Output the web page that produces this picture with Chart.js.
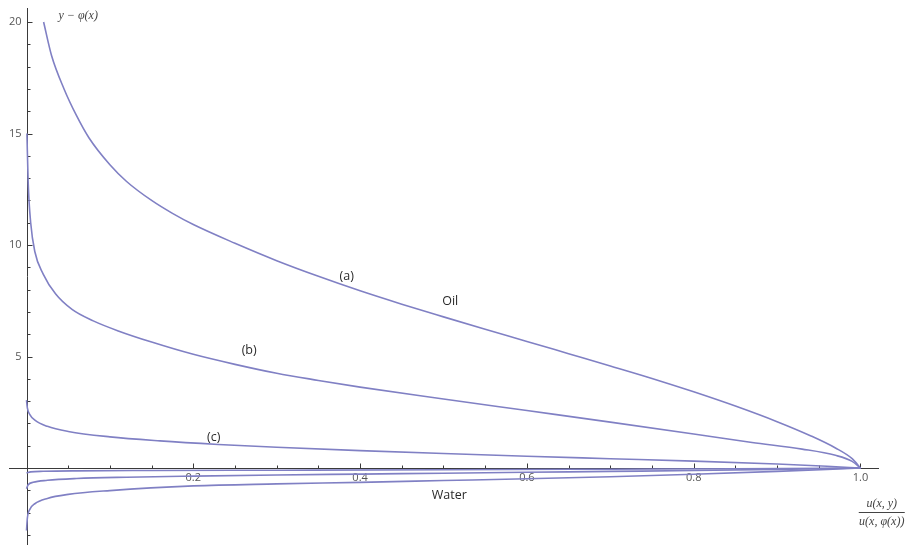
<!DOCTYPE html>
<html>
<head>
<meta charset="utf-8">
<script src="https://cdn.jsdelivr.net/npm/chart.js@4.4.0/dist/chart.umd.min.js"></script>
<style>
  html, body { margin: 0; padding: 0; background: #fff; }
  #chart { display: block; }
</style>
</head>
<body>
<canvas id="chart" width="909" height="548"></canvas>
<script>
// curve (a) - oil side, largest
const curveAX = [0.0205, 0.03, 0.045, 0.06, 0.075, 0.1, 0.12, 0.15, 0.175, 0.2, 0.25, 0.3, 0.35, 0.4, 0.45, 0.5, 0.55, 0.6, 0.65, 0.7, 0.75, 0.8, 0.85, 0.9, 0.94, 0.97, 0.99, 1.0];
const curveAY = [20.0, 18.5, 17.0, 15.8, 14.8, 13.6, 12.85, 12.0, 11.42, 10.92, 10.08, 9.3, 8.6, 7.95, 7.35, 6.78, 6.22, 5.68, 5.13, 4.58, 4.02, 3.42, 2.78, 2.08, 1.45, 0.9, 0.42, 0];

// curve (b)
const curveBX = [0.0005, 0.002, 0.005, 0.01, 0.02, 0.035, 0.055, 0.08, 0.11, 0.15, 0.2, 0.25, 0.3, 0.35, 0.4, 0.5, 0.6, 0.7, 0.8, 0.87, 0.93, 0.97, 0.99, 1.0];
const curveBY = [15.0, 12.8, 11.0, 9.7, 8.7, 7.8, 7.1, 6.6, 6.15, 5.65, 5.1, 4.65, 4.25, 3.93, 3.63, 3.1, 2.58, 2.06, 1.53, 1.15, 0.85, 0.57, 0.3, 0];

// curve (c)
const curveCX = [0.0, 0.001, 0.004, 0.01, 0.025, 0.05, 0.1, 0.16, 0.23, 0.3, 0.4, 0.5, 0.6, 0.7, 0.8, 0.9, 0.96, 1.0];
const curveCY = [3.05, 2.7, 2.4, 2.15, 1.87, 1.64, 1.4, 1.22, 1.06, 0.93, 0.78, 0.65, 0.53, 0.42, 0.31, 0.18, 0.08, 0];

// water side curves (below the axis)
const waterTopX = [0.0, 0.005, 0.02, 0.06, 0.15, 0.3, 0.5, 0.7, 0.85, 1.0];
const waterTopY = [-0.22, -0.17, -0.145, -0.125, -0.11, -0.095, -0.075, -0.05, -0.03, 0];
const waterMidX = [0.0, 0.002, 0.008, 0.025, 0.06, 0.12, 0.2, 0.3, 0.4, 0.5, 0.6, 0.7, 0.8, 0.9, 1.0];
const waterMidY = [-0.93, -0.75, -0.64, -0.55, -0.47, -0.41, -0.36, -0.31, -0.27, -0.23, -0.19, -0.15, -0.11, -0.06, 0];
const waterLowX = [0.0, 0.001, 0.004, 0.01, 0.025, 0.05, 0.1, 0.2, 0.3, 0.4, 0.5, 0.6, 0.7, 0.8, 0.9, 1.0];
const waterLowY = [-2.8, -2.25, -1.85, -1.6, -1.36, -1.18, -1.01, -0.8, -0.71, -0.64, -0.56, -0.48, -0.39, -0.28, -0.15, 0];

// axes
const X_MIN = -0.021, X_MAX = 1.0222;
const Y_MIN = -3.45, Y_MAX = 20.63;
const xTicks = [0.2, 0.4, 0.6, 0.8, 1.0];
const xTickLabels = ["0.2", "0.4", "0.6", "0.8", "1.0"];
const yTicks = [5, 10, 15, 20];
const yTickLabels = ["5", "10", "15", "20"];

// text placed in data coordinates
const noteTexts = ["(a)", "(b)", "(c)", "Oil", "Water"];
const noteX = [0.384, 0.267, 0.2245, 0.508, 0.507];
const noteY = [8.58, 5.26, 1.38, 7.45, -1.21];

const CURVE_COLOR = "#8080c4";
const AXIS_COLOR = "#3a3a3a";

function toPoints(xs, ys) {
  return xs.map((x, i) => ({ x, y: ys[i] }));
}

function curve(xs, ys) {
  return {
    data: toPoints(xs, ys),
    showLine: true,
    borderColor: CURVE_COLOR,
    borderWidth: 1.6,
    pointRadius: 0,
    cubicInterpolationMode: "monotone",
    fill: false,
  };
}

const crossAxes = {
  id: "crossAxes",
  beforeDatasetsDraw(chart) {
    const { ctx, chartArea, scales: { x, y } } = chart;
    const x0 = Math.round(x.getPixelForValue(0)) + 0.5;
    const y0 = Math.round(y.getPixelForValue(0)) + 0.5;
    ctx.save();
    ctx.strokeStyle = AXIS_COLOR;
    ctx.lineWidth = 1;
    ctx.beginPath();
    ctx.moveTo(chartArea.left, y0);
    ctx.lineTo(chartArea.right, y0);
    ctx.moveTo(x0, chartArea.top);
    ctx.lineTo(x0, chartArea.bottom);
    // x ticks every 0.05, pointing up
    for (let i = 1; i <= 20; i++) {
      const px = Math.round(x.getPixelForValue(i * 0.05)) + 0.5;
      ctx.moveTo(px, y0);
      ctx.lineTo(px, y0 - (i % 4 === 0 ? 5 : 3));
    }
    // y ticks every 1, pointing right
    for (let v = -3; v <= 20; v++) {
      if (v === 0) continue;
      const py = Math.round(y.getPixelForValue(v)) + 0.5;
      ctx.moveTo(x0, py);
      ctx.lineTo(x0 + (v % 5 === 0 ? 5 : 3), py);
    }
    ctx.stroke();

    ctx.fillStyle = "#555";
    ctx.font = "11px 'Open Sans'";
    ctx.textAlign = "center";
    ctx.textBaseline = "top";
    xTicks.forEach((v, i) => ctx.fillText(xTickLabels[i], x.getPixelForValue(v), y0 + 4));
    ctx.textAlign = "right";
    ctx.textBaseline = "middle";
    yTicks.forEach((v, i) => ctx.fillText(yTickLabels[i], x0 - 6, y.getPixelForValue(v)));
    ctx.restore();
  },
  afterDatasetsDraw(chart) {
    const { ctx, scales: { x, y } } = chart;
    ctx.save();
    ctx.fillStyle = "#2a2a2a";
    ctx.font = "12.5px 'Open Sans'";
    ctx.textAlign = "center";
    ctx.textBaseline = "middle";
    noteTexts.forEach((t, i) => ctx.fillText(t, x.getPixelForValue(noteX[i]), y.getPixelForValue(noteY[i])));

    // axis titles (serif italic, Mathematica style)
    ctx.fillStyle = "#444";
    ctx.font = "italic 12px 'Liberation Serif'";
    ctx.fillText("y \u2212 \u03c6(x)", x.getPixelForValue(0.062), y.getPixelForValue(20.3));

    const fx = x.getPixelForValue(1.0255);
    const barY = Math.round(y.getPixelForValue(-1.95)) + 0.5;
    ctx.fillText("u(x, y)", fx, barY - 9);
    ctx.fillText("u(x, \u03c6(x))", fx, barY + 9);
    ctx.strokeStyle = "#444";
    ctx.lineWidth = 1;
    ctx.beginPath();
    ctx.moveTo(fx - 23, barY);
    ctx.lineTo(fx + 23, barY);
    ctx.stroke();
    ctx.restore();
  },
};

const chart = new Chart(document.getElementById("chart").getContext("2d"), {
  type: "scatter",
  data: {
    datasets: [
      curve(curveAX, curveAY),
      curve(curveBX, curveBY),
      curve(curveCX, curveCY),
      curve(waterTopX, waterTopY),
      curve(waterMidX, waterMidY),
      curve(waterLowX, waterLowY),
    ],
  },
  options: {
    responsive: false,
    animation: false,
    layout: { padding: { left: 9, right: 30, top: 8, bottom: 3 } },
    plugins: { legend: { display: false }, tooltip: { enabled: false } },
    scales: {
      x: { type: "linear", min: X_MIN, max: X_MAX, display: false },
      y: { type: "linear", min: Y_MIN, max: Y_MAX, display: false },
    },
  },
  plugins: [crossAxes],
});
</script>
</body>
</html>
